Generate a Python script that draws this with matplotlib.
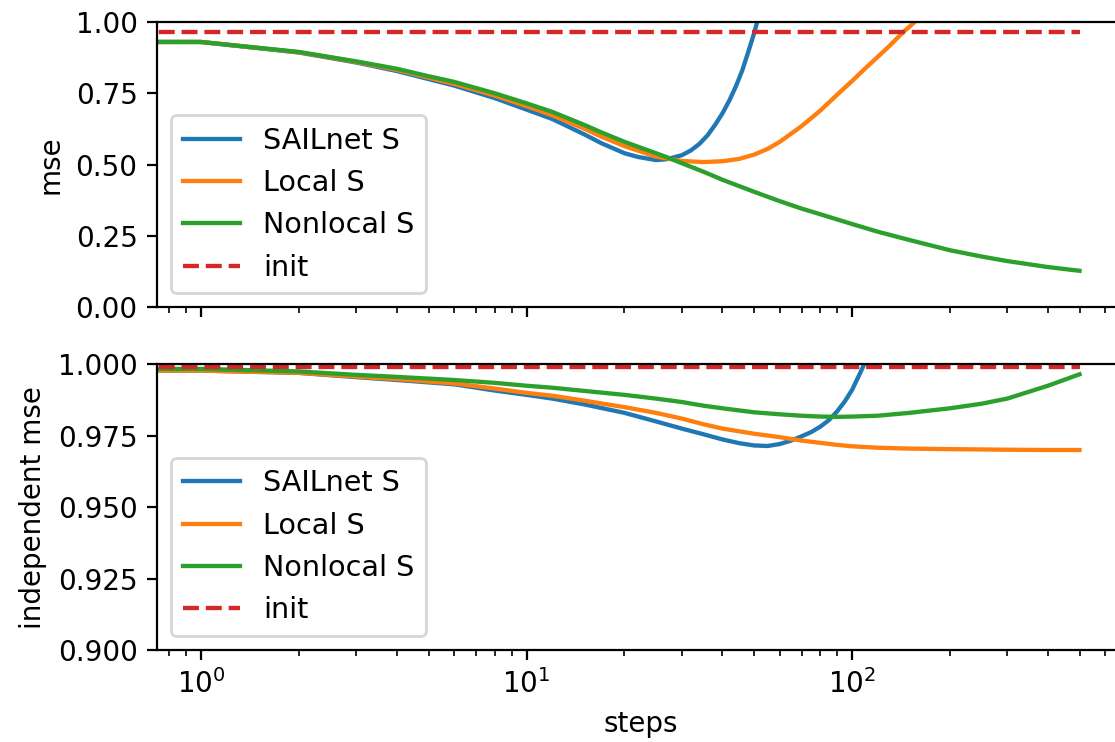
import matplotlib
matplotlib.use("Agg")
import matplotlib.pyplot as plt

# ---- data ----
labels = ["SAILnet S", "Local S", "Nonlocal S", "init"]

# top panel: mse
mse_sail_steps = [0, 1, 2, 3, 4, 5, 6, 8, 10, 12, 15, 17, 20, 22, 25, 27, 30, 32, 34, 36, 38,
                  40, 42, 44, 46, 48, 50, 52]
mse_sail = [0.930, 0.930, 0.893, 0.858, 0.828, 0.800, 0.777, 0.733, 0.693, 0.660, 0.607, 0.575,
            0.540, 0.527, 0.516, 0.519, 0.533, 0.550, 0.573, 0.603, 0.640, 0.680, 0.725, 0.775,
            0.830, 0.895, 0.960, 1.030]

mse_local_steps = [0, 1, 2, 3, 4, 5, 6, 8, 10, 12, 15, 17, 20, 25, 30, 35, 40, 45, 50, 55, 60,
                   70, 80, 90, 100, 110, 120, 130, 143, 160, 180]
mse_local = [0.930, 0.930, 0.894, 0.860, 0.832, 0.805, 0.783, 0.742, 0.705, 0.673, 0.627, 0.598,
             0.565, 0.528, 0.513, 0.509, 0.512, 0.520, 0.535, 0.555, 0.580, 0.635, 0.690, 0.745,
             0.793, 0.838, 0.878, 0.915, 0.962, 1.012, 1.065]

mse_nonlocal_steps = [0, 1, 2, 3, 4, 5, 6, 8, 10, 12, 15, 17, 20, 25, 27, 30, 35, 40, 50, 60,
                      70, 80, 90, 100, 120, 150, 200, 250, 300, 400, 500]
mse_nonlocal = [0.930, 0.930, 0.895, 0.862, 0.836, 0.810, 0.790, 0.750, 0.715, 0.685, 0.640,
                0.613, 0.580, 0.540, 0.526, 0.505, 0.475, 0.447, 0.405, 0.372, 0.346, 0.326,
                0.308, 0.292, 0.265, 0.236, 0.200, 0.178, 0.162, 0.141, 0.128]

mse_init_steps = [0, 500]
mse_init = [0.964, 0.964]

# bottom panel: independent mse
ind_sail_steps = [0, 1, 2, 3, 4, 6, 8, 10, 12, 15, 20, 25, 30, 35, 40, 45, 50, 55, 60, 65, 70,
                  75, 80, 85, 90, 95, 100, 105, 110]
ind_sail = [0.9978, 0.9978, 0.9970, 0.9955, 0.9945, 0.9930, 0.9908, 0.9893, 0.9880, 0.9860,
            0.9830, 0.9800, 0.9775, 0.9755, 0.9737, 0.9724, 0.9716, 0.9714, 0.9721, 0.9733,
            0.9748, 0.9763, 0.9782, 0.9805, 0.9835, 0.9870, 0.9910, 0.9960, 1.0010]

ind_local_steps = [0, 1, 2, 3, 4, 6, 8, 10, 12, 15, 20, 25, 30, 35, 40, 50, 60, 70, 80, 90, 100,
                   120, 150, 200, 250, 300, 400, 500]
ind_local = [0.9978, 0.9978, 0.9970, 0.9957, 0.9948, 0.9933, 0.9915, 0.9900, 0.9890, 0.9873,
             0.9850, 0.9830, 0.9810, 0.9790, 0.9775, 0.9757, 0.9745, 0.9733, 0.9725, 0.9718,
             0.9713, 0.9708, 0.9705, 0.9703, 0.9702, 0.9701, 0.9700, 0.9700]

ind_nonlocal_steps = [0, 1, 2, 3, 4, 6, 8, 10, 12, 15, 20, 25, 30, 35, 40, 50, 60, 70, 80, 90,
                      100, 120, 150, 200, 250, 300, 400, 500]
ind_nonlocal = [0.9984, 0.9984, 0.9975, 0.9963, 0.9956, 0.9945, 0.9935, 0.9925, 0.9918, 0.9907,
                0.9893, 0.9880, 0.9868, 0.9855, 0.9846, 0.9832, 0.9825, 0.9820, 0.9817, 0.9816,
                0.9817, 0.9820, 0.9830, 0.9846, 0.9862, 0.9880, 0.9925, 0.9965]

ind_init_steps = [0, 500]
ind_init = [0.999, 0.999]

# ---- figure ----
W, H = 1115, 742
fig = plt.figure(figsize=(W / 200, H / 200), dpi=200)
left = 157 / W
width = (1124 - 157) / W
ax1 = fig.add_axes([left, 1 - 307.3 / H, width, (307.3 - 22) / H])
ax2 = fig.add_axes([left, 1 - 650 / H, width, (650 - 364.3) / H], sharex=ax1)

panels = [
    (ax1, [(mse_sail_steps, mse_sail), (mse_local_steps, mse_local),
           (mse_nonlocal_steps, mse_nonlocal)], (mse_init_steps, mse_init)),
    (ax2, [(ind_sail_steps, ind_sail), (ind_local_steps, ind_local),
           (ind_nonlocal_steps, ind_nonlocal)], (ind_init_steps, ind_init)),
]

colors = ["C0", "C1", "C2", "C3"]
for ax, series, init in panels:
    for (xs, ys), lab, c in zip(series, labels[:3], colors[:3]):
        ax.plot(xs, ys, color=c, label=lab, lw=1.55)
    ax.plot(init[0], init[1], "--", color=colors[3], label=labels[3], lw=1.55)
    ax.set_xscale("log")
    ax.legend(loc="lower left", fontsize=10.3)

ax1.set_xlim(10 ** (-44 / 325.5), 10 ** ((1124 - 201) / 325.5))
ax1.set_ylim(0, 1)
ax1.set_yticks([0, 0.25, 0.5, 0.75, 1.0])
ax1.set_ylabel("mse")
ax1.tick_params(labelbottom=False)

ax2.set_ylim(0.9, 1.0)
ax2.set_yticks([0.9, 0.925, 0.95, 0.975, 1.0])
ax2.set_ylabel("independent mse")
ax2.set_xlabel("steps")

fig.savefig("out.png", dpi=200)
